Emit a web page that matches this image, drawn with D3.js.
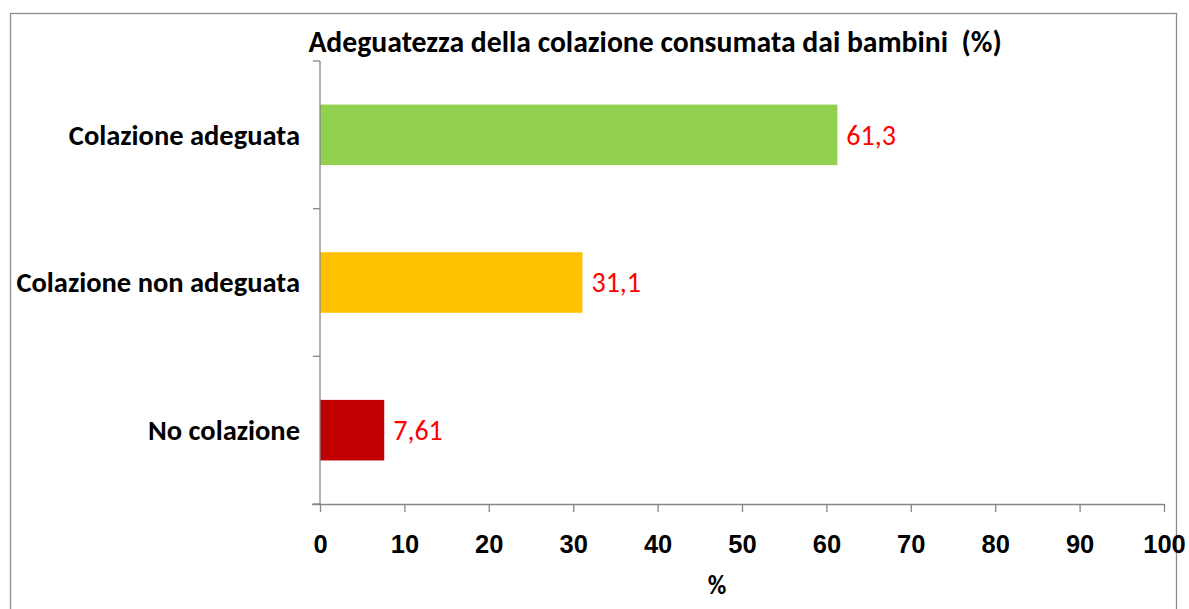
<!DOCTYPE html>
<html>
<head>
<meta charset="utf-8">
<script src="https://cdn.jsdelivr.net/npm/d3@7"></script>
<style>
  body { margin: 0; background: #fff; }
  svg { display: block; font-family: Carlito, Calibri, Lato, "Open Sans", sans-serif; }
</style>
</head>
<body>
<div id="chart"></div>
<script>
// Chart data
const categories = ['Colazione adeguata', 'Colazione non adeguata', 'No colazione'];
const values = [61.3, 31.1, 7.61];
const valueLabels = ['61,3', '31,1', '7,61'];
const barColors = ['#92D050', '#FFC000', '#C00000'];
const xTicks = [0, 10, 20, 30, 40, 50, 60, 70, 80, 90, 100];
const chartTitle = 'Adeguatezza della colazione consumata dai bambini  (%)';
const xAxisTitle = '%';

(function() {
    const width = 1189;
    const height = 609;
    const margin = {top: 61, right: 25, bottom: 105, left: 320};
    const innerW = 1164 - margin.left;
    const innerH = 504 - margin.top;
    const axisColor = '#868686';

    const svg = d3.select('#chart')
        .append('svg')
        .attr('width', width)
        .attr('height', height);

    // Outer frame
    svg.append('rect')
        .attr('x', 10.5)
        .attr('y', 13.5)
        .attr('width', 1166)
        .attr('height', 620)
        .attr('fill', 'none')
        .attr('stroke', '#8c8c8c')
        .attr('stroke-width', 1.3);

    // Title
    svg.append('text')
        .attr('x', 655)
        .attr('y', 52)
        .attr('text-anchor', 'middle')
        .attr('font-size', 29.7)
        .attr('font-weight', 'bold')
        .attr('fill', '#000')
        .style('white-space', 'pre')
        .text(chartTitle);

    const g = svg.append('g')
        .attr('transform', `translate(${margin.left},${margin.top})`);

    // Scales
    const x = d3.scaleLinear()
        .domain([0, 100])
        .range([0, innerW]);

    const y = d3.scaleBand()
        .domain(categories)
        .range([0, innerH])
        .padding(0);

    const barH = y.bandwidth() * 0.41;

    // Bars
    g.selectAll('rect.bar')
        .data(values)
        .enter()
        .append('rect')
        .attr('class', 'bar')
        .attr('x', x(0))
        .attr('y', (d, i) => y(categories[i]) + (y.bandwidth() - barH) / 2)
        .attr('width', d => x(d) - x(0))
        .attr('height', barH)
        .attr('fill', (d, i) => barColors[i]);

    // Value labels
    g.selectAll('text.value')
        .data(values)
        .enter()
        .append('text')
        .attr('class', 'value')
        .attr('x', d => x(d) + 9)
        .attr('y', (d, i) => y(categories[i]) + y.bandwidth() / 2)
        .attr('dy', '0.35em')
        .attr('font-size', 28)
        .attr('fill', '#FF0000')
        .text((d, i) => valueLabels[i]);

    // X axis
    const xAxis = g.append('g')
        .attr('transform', `translate(0,${innerH})`)
        .call(d3.axisBottom(x).tickValues(xTicks).tickSize(8).tickPadding(23).tickFormat(d3.format('d')));
    xAxis.select('.domain').attr('stroke', axisColor).attr('stroke-width', 1.3)
        .attr('d', `M-8,0.5H${innerW}`);
    xAxis.selectAll('.tick line').attr('stroke', axisColor).attr('stroke-width', 1.3);
    xAxis.selectAll('.tick text')
        .attr('font-family', null)
        .attr('font-size', 25.5)
        .attr('font-weight', 'bold')
        .attr('fill', '#000');

    // Y axis line with boundary ticks
    const yAxis = g.append('g');
    yAxis.append('line')
        .attr('x1', 0).attr('x2', 0)
        .attr('y1', 0).attr('y2', innerH)
        .attr('stroke', axisColor)
        .attr('stroke-width', 1.3);
    const bounds = categories.map(c => y(c)).concat([innerH]);
    yAxis.selectAll('line.tick')
        .data(bounds)
        .enter()
        .append('line')
        .attr('class', 'tick')
        .attr('x1', -7).attr('x2', 0)
        .attr('y1', d => d).attr('y2', d => d)
        .attr('stroke', axisColor)
        .attr('stroke-width', 1.3);

    // Category labels
    yAxis.selectAll('text.cat')
        .data(categories)
        .enter()
        .append('text')
        .attr('class', 'cat')
        .attr('x', -20)
        .attr('y', d => y(d) + y.bandwidth() / 2)
        .attr('dy', '0.35em')
        .attr('text-anchor', 'end')
        .attr('font-size', 28.5)
        .attr('font-weight', 'bold')
        .attr('fill', '#000')
        .text(d => d);

    // X axis title
    svg.append('text')
        .attr('x', 717)
        .attr('y', 594)
        .attr('text-anchor', 'middle')
        .attr('font-size', 25.5)
        .attr('font-weight', 'bold')
        .attr('fill', '#000')
        .text(xAxisTitle);
})();
</script>
</body>
</html>
